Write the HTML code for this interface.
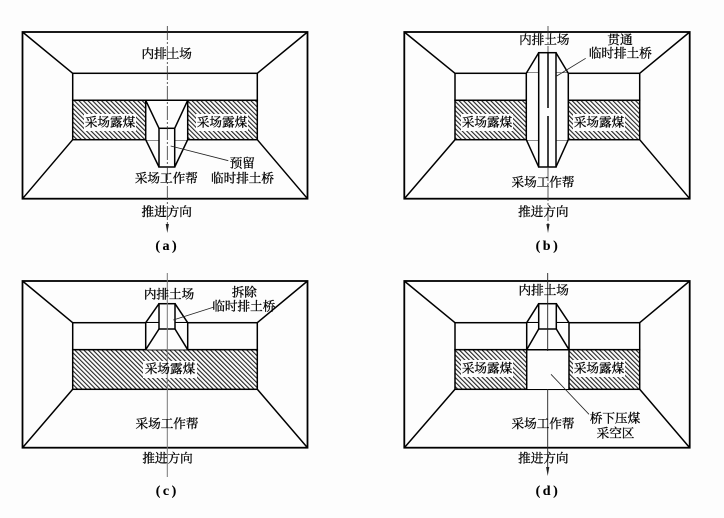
<!DOCTYPE html>
<html>
<head>
<meta charset="utf-8">
<style>
html,body{margin:0;padding:0;background:#fdfdfd;width:724px;height:518px;overflow:hidden}
svg{display:block;filter:blur(.3px)}
text{font-family:"Liberation Serif","Noto Serif CJK SC",serif;font-size:12.6px;fill:#000;text-anchor:middle;dominant-baseline:central;stroke:#000;stroke-width:.3}
.s{fill:none;stroke:#000;stroke-width:1.5}
.b{fill:none;stroke:#000;stroke-width:1.8}
.l{fill:none;stroke:#222;stroke-width:.8}
.c{fill:none;stroke:#333;stroke-width:.8;stroke-dasharray:14 2 2 2}
.h{fill:url(#hatch);stroke:#000;stroke-width:1.5}
.w{fill:#fdfdfd;stroke:none}
.cap{font-weight:bold;font-size:14px;stroke-width:.1;word-spacing:-1px}
</style>
</head>
<body>
<svg width="724" height="518" viewBox="0 0 724 518" xmlns="http://www.w3.org/2000/svg">
<defs>
<pattern id="hatch" width="3.2" height="3.2" patternUnits="userSpaceOnUse" patternTransform="rotate(-45)">
<rect width="3.2" height="3.2" fill="#fdfdfd"/>
<rect width="1.1" height="3.2" fill="#222"/>
</pattern>
</defs>

<!-- (a) -->
<rect class="b" x="22.5" y="32" width="285" height="166.7"/>
<path class="s" d="M22.5 32L72.7 73.3M307.5 32L257.3 73.3M22.5 198.7L72.7 139.7M307.5 198.7L257.3 139.7"/>
<rect class="s" x="72.7" y="73.3" width="184.6" height="27"/>
<rect class="h" x="72.7" y="100.3" width="184.6" height="39.4"/>
<rect class="w" x="146" y="101" width="41.5" height="39"/>
<rect class="w" x="84" y="114" width="52" height="17"/>
<rect class="w" x="196" y="114" width="52" height="17"/>
<path class="s" d="M72.7 100.3H257.3M145.7 100.3V139.7M187.7 100.3V139.7M145.7 100.3L159 128.3M187.7 100.3L174.7 128.3M145.7 139.7L159 167M187.7 139.7L174.7 167"/>
<rect class="w" x="159" y="128.3" width="15.7" height="38.7"/>
<rect class="s" x="159" y="128.3" width="15.7" height="38.7"/>
<path class="c" d="M167.3 26V227"/>
<path d="M167.3 233L165.7 224H168.9Z" fill="#222"/>
<path class="l" d="M170.7 146L228.3 160.7"/>
<text x="166.7" y="54">内排土场</text>
<text x="110" y="122.3">采场露煤</text>
<text x="222" y="122.3">采场露煤</text>
<text x="166.3" y="178.3">采场工作帮</text>
<text x="242.3" y="163.7">预留</text>
<text x="242.5" y="178.3">临时排土桥</text>
<text x="166.7" y="212">推进方向</text>
<text class="cap" x="166" y="246.7">( a )</text>

<!-- (b) -->
<rect class="b" x="404.3" y="32" width="285.4" height="166.7"/>
<path class="s" d="M404.3 32L455 73.3M689.7 32L639.7 73.3M404.3 198.7L455 139.7M689.7 198.7L639.7 139.7"/>
<rect class="s" x="455" y="73.3" width="184.7" height="27"/>
<rect class="h" x="455" y="100.3" width="184.7" height="39.4"/>
<rect class="w" x="526.5" y="73" width="41.5" height="67"/>
<rect class="w" x="461" y="114" width="52" height="17"/>
<rect class="w" x="573" y="114" width="52" height="17"/>
<path class="s" d="M526.3 73.3V139.7M568.3 73.3V139.7M526.3 73.3L538.7 52.7M568.3 73.3L556 52.7M526.3 139.7L538.7 167M568.3 139.7L556 167"/>
<rect class="w" x="538.7" y="52.7" width="17.3" height="114.3"/>
<rect class="s" x="538.7" y="52.7" width="17.3" height="114.3"/>
<path class="s" d="M548 52.7V108M548 116V167"/>
<path class="c" d="M548 26V52M548 167V227"/>
<path d="M548 233L546.4 224H549.6Z" fill="#222"/>
<path class="l" d="M556.7 76L585.7 58.3"/>
<text x="544.3" y="40">内排土场</text>
<text x="620" y="40">贯通</text>
<text x="620.3" y="53.7">临时排土桥</text>
<text x="487" y="122.3">采场露煤</text>
<text x="599" y="122.3">采场露煤</text>
<text x="543" y="182.7">采场工作帮</text>
<text x="543.3" y="212">推进方向</text>
<text class="cap" x="546.7" y="246.7">( b )</text>

<!-- (c) -->
<rect class="b" x="22.5" y="281" width="285" height="166.7"/>
<path class="s" d="M22.5 281L72.7 322.7M307.5 281L257.3 322.7M22.5 447.7L72.7 389.3M307.5 447.7L257.3 389.3"/>
<rect class="s" x="72.7" y="322.7" width="184.6" height="27"/>
<rect class="h" x="72.7" y="349.7" width="184.6" height="39.6"/>
<rect class="w" x="143" y="361" width="54" height="17"/>
<rect class="w" x="146" y="323" width="41.5" height="26.5"/>
<path class="s" d="M145.7 322.7V349.7M187.7 322.7V349.7M145.7 322.7L159 303.7M187.7 322.7L175 303.7M145.7 349.7L159 329M187.7 349.7L175 329"/>
<rect class="w" x="159" y="303.7" width="16" height="25.3"/>
<rect class="s" x="159" y="303.7" width="16" height="25.3"/>
<path d="M167.3 273V477" fill="none" stroke="#777" stroke-width="1"/>
<path class="l" d="M173.3 320L213.3 307.3"/>
<text x="169" y="294.3">内排土场</text>
<text x="244.3" y="292.3">拆除</text>
<text x="243.8" y="306.3">临时排土桥</text>
<text x="170" y="369">采场露煤</text>
<text x="167" y="424">采场工作帮</text>
<text x="167.5" y="458.3">推进方向</text>
<text class="cap" x="166" y="491.7">( c )</text>

<!-- (d) -->
<rect class="b" x="404.3" y="281" width="285.4" height="166.7"/>
<path class="s" d="M404.3 281L455 322.7M689.7 281L639.7 322.7M404.3 447.7L455 389.3M689.7 447.7L639.7 389.3"/>
<rect class="s" x="455" y="322.7" width="184.7" height="27"/>
<rect class="h" x="455" y="349.7" width="184.7" height="39.6"/>
<rect class="w" x="527" y="323" width="42" height="66"/>
<rect class="w" x="461" y="360" width="52" height="17"/>
<rect class="w" x="573" y="360" width="52" height="17"/>
<path class="s" d="M526.7 322.7V389.3M569 322.7V389.3M526.7 349.7H569M526.7 322.7L538.7 303.7M569 322.7L556.3 303.7M526.7 349.7L538.7 329M569 349.7L556.3 329"/>
<rect class="w" x="538.7" y="303.7" width="17.6" height="25.3"/>
<rect class="s" x="538.7" y="303.7" width="17.6" height="25.3"/>
<path d="M547.7 273V351M547.7 389V470" fill="none" stroke="#222" stroke-width=".9"/>
<path d="M547.7 476L546.1 467H549.3Z" fill="#222"/>
<path class="l" d="M551 374.3L589 414.3"/>
<text x="543.7" y="290.7">内排土场</text>
<text x="487" y="368.3">采场露煤</text>
<text x="599" y="368.3">采场露煤</text>
<text x="543" y="424">采场工作帮</text>
<text x="615" y="418.3">桥下压煤</text>
<text x="615.5" y="433.3">采空区</text>
<text x="543.3" y="458.3">推进方向</text>
<text class="cap" x="546.7" y="491.7">( d )</text>
</svg>
</body>
</html>
